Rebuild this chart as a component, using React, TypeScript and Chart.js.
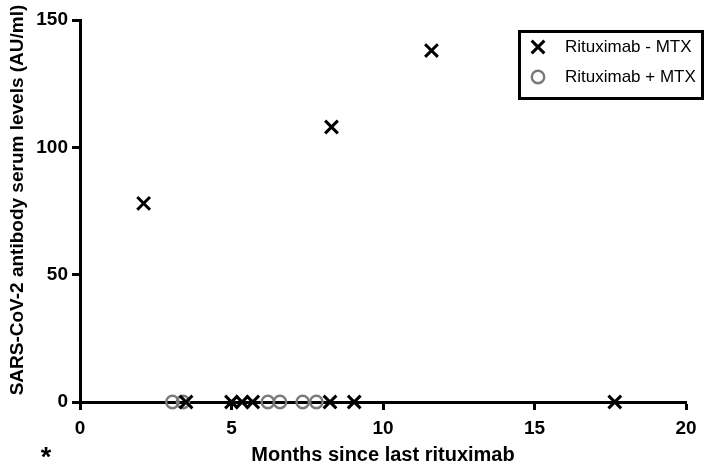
import React, { useEffect, useRef } from "react";
import { Chart, registerables } from "chart.js";

Chart.register(...registerables);

const minusLabel = "Rituximab - MTX";
const plusLabel = "Rituximab + MTX";
const minusMonths = [2.1, 8.3, 11.6, 3.5, 5.0, 5.35, 5.7, 8.25, 9.05, 17.65];
const minusLevels = [78, 108, 138, 0, 0, 0, 0, 0, 0, 0];
const plusMonths = [3.05, 3.4, 6.2, 6.6, 7.35, 7.8];
const plusLevels = [0, 0, 0, 0, 0, 0];
const xTicks = [0, 5, 10, 15, 20];
const yTicks = [0, 50, 100, 150];
const xTitle = "Months since last rituximab";
const yTitle = "SARS-CoV-2 antibody serum levels (AU/ml)";
const footnote = "*";

const FONT = "'Liberation Sans', Arial, Helvetica, sans-serif";
const GREY = "#7a7a7a";

const overlayPlugin = {
  id: "overlay",
  afterDraw(chart: any) {
    const ctx = chart.ctx;
    ctx.save();
    // y title
    ctx.save();
    ctx.translate(18, 200);
    ctx.rotate(-Math.PI / 2);
    ctx.fillStyle = "#000";
    ctx.font = `bold 19px ${FONT}`;
    ctx.textAlign = "center";
    ctx.textBaseline = "middle";
    ctx.fillText(yTitle, 0, 0);
    ctx.restore();
    // footnote
    ctx.fillStyle = "#000";
    ctx.font = `bold 27px ${FONT}`;
    ctx.textAlign = "center";
    ctx.textBaseline = "alphabetic";
    ctx.fillText(footnote, 46, 466);
    // legend
    const bx = 518, by = 30, bw = 186, bh = 70;
    ctx.lineWidth = 3;
    ctx.strokeStyle = "#000";
    ctx.strokeRect(bx + 1.5, by + 1.5, bw - 3, bh - 3);
    const ds = chart.data.datasets;
    const rows = [47, 77];
    ds.forEach((d: any, i: number) => {
      const cx = 538, cy = rows[i];
      ctx.beginPath();
      if (d.pointStyle === "crossRot") {
        const o = d.pointRadius * Math.SQRT1_2;
        ctx.moveTo(cx - o, cy - o);
        ctx.lineTo(cx + o, cy + o);
        ctx.moveTo(cx + o, cy - o);
        ctx.lineTo(cx - o, cy + o);
      } else {
        ctx.arc(cx, cy, d.pointRadius, 0, Math.PI * 2);
      }
      ctx.lineWidth = d.pointBorderWidth;
      ctx.strokeStyle = d.pointBorderColor;
      ctx.stroke();
      ctx.fillStyle = "#000";
      ctx.font = `17px ${FONT}`;
      ctx.textAlign = "left";
      ctx.textBaseline = "middle";
      ctx.fillText(d.label, 565, cy);
    });
    ctx.restore();
  },
};

export default function App() {
  const ref = useRef<HTMLCanvasElement>(null);
  useEffect(() => {
    if (!ref.current) return;
    const chart = new Chart(ref.current, {
      type: "scatter",
      data: {
        datasets: [
          {
            label: minusLabel,
            data: minusMonths.map((x, i) => ({ x, y: minusLevels[i] })),
            pointStyle: "crossRot",
            pointRadius: 9,
            pointBorderWidth: 3,
            pointBorderColor: "#000",
            pointBackgroundColor: "#000",
            showLine: false,
            clip: false,
          } as any,
          {
            label: plusLabel,
            data: plusMonths.map((x, i) => ({ x, y: plusLevels[i] })),
            pointStyle: "circle",
            pointRadius: 6.2,
            pointBorderWidth: 2.4,
            pointBorderColor: GREY,
            pointBackgroundColor: "rgba(0,0,0,0)",
            showLine: false,
            clip: false,
          } as any,
        ],
      },
      options: {
        animation: false,
        responsive: true,
        maintainAspectRatio: false,
        layout: { padding: { top: 20, right: 23, left: 0, bottom: 0 } },
        plugins: { legend: { display: false }, tooltip: { enabled: false } },
        scales: {
          x: {
            type: "linear",
            min: 0,
            max: 20,
            afterFit: (s: any) => {
              s.height = 63;
            },
            afterBuildTicks: (s: any) => {
              s.ticks = xTicks.map((v) => ({ value: v }));
            },
            ticks: {
              color: "#000",
              font: { family: FONT, size: 19, weight: "bold" },
              padding: 7,
              maxRotation: 0,
            },
            grid: {
              display: true,
              drawOnChartArea: false,
              drawTicks: true,
              tickLength: 8,
              tickWidth: 3,
              tickColor: "#000",
            },
            border: { display: true, color: "#000", width: 3 },
            title: {
              display: true,
              text: xTitle,
              color: "#000",
              font: { family: FONT, size: 20, weight: "bold", lineHeight: 1 },
              padding: { top: 0, bottom: 0 },
            },
          },
          y: {
            type: "linear",
            min: 0,
            max: 150,
            afterFit: (s: any) => {
              s.width = 80;
            },
            afterBuildTicks: (s: any) => {
              s.ticks = yTicks.map((v) => ({ value: v }));
            },
            ticks: {
              color: "#000",
              font: { family: FONT, size: 19, weight: "bold" },
              padding: 4,
            },
            grid: {
              display: true,
              drawOnChartArea: false,
              drawTicks: true,
              tickLength: 8,
              tickWidth: 3,
              tickColor: "#000",
            },
            border: { display: true, color: "#000", width: 3 },
          },
        },
      } as any,
      plugins: [overlayPlugin],
    });
    return () => chart.destroy();
  }, []);
  return (
    <div style={{ position: "absolute", left: 0, top: 0, width: 709, height: 465, background: "#fff" }}>
      <canvas ref={ref} />
    </div>
  );
}
